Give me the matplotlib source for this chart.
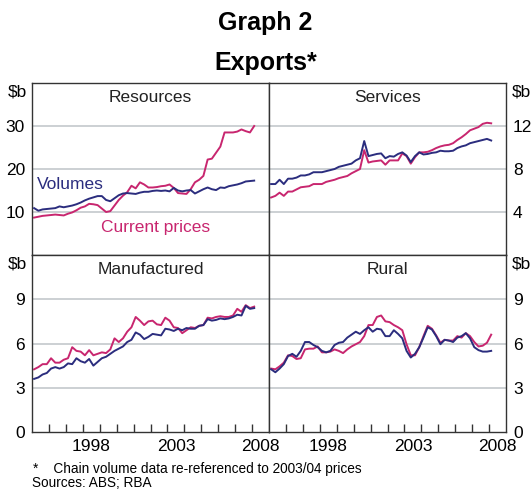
import matplotlib
matplotlib.use("Agg")
import matplotlib.pyplot as plt
import numpy as np

plt.rcParams['font.family'] = ['Liberation Sans', 'DejaVu Sans']

# quarterly observations, mid-quarter dates
n_q = 53
dates = 1995.125 + 0.25 * np.arange(n_q)

resources_vol = [10.9, 10.3, 10.6, 10.7, 10.8, 10.9, 11.3, 11.1, 11.3, 11.5, 11.8, 12.2, 12.7, 13.1,
                 13.4, 13.7, 13.7, 12.8, 12.5, 13.2, 13.9, 14.3, 14.4, 14.3, 14.2, 14.5, 14.7, 14.7,
                 14.9, 15.0, 14.9, 15.0, 14.8, 15.6, 15.0, 14.8, 15.0, 15.1, 14.3, 14.8, 15.3, 15.7,
                 15.3, 15.1, 15.7, 15.6, 16.0, 16.2, 16.4, 16.7, 17.1, 17.2, 17.3]
resources_cur = [8.7, 8.9, 9.1, 9.2, 9.3, 9.4, 9.3, 9.2, 9.6, 9.9, 10.4, 11.0, 11.3, 11.9,
                 11.8, 11.6, 10.8, 10.0, 10.2, 11.5, 12.8, 13.8, 14.6, 16.1, 15.5, 16.9, 16.4, 15.7,
                 15.7, 15.8, 16.0, 16.1, 16.4, 15.6, 14.4, 14.3, 14.2, 15.3, 16.9, 17.5, 18.4, 22.2,
                 22.4, 23.8, 25.2, 28.5, 28.5, 28.5, 28.7, 29.2, 28.8, 28.5, 30.0]

services_vol = [6.6, 6.6, 7.0, 6.6, 7.1, 7.1, 7.2, 7.4, 7.4, 7.5, 7.7, 7.7, 7.7, 7.8,
                7.9, 8.0, 8.2, 8.3, 8.4, 8.5, 8.8, 9.0, 10.6, 9.2, 9.3, 9.4, 9.45, 9.0,
                9.2, 9.15, 9.4, 9.55, 9.25, 8.65, 9.2, 9.55, 9.35, 9.4, 9.5, 9.55, 9.7, 9.65,
                9.65, 9.7, 9.95, 10.1, 10.2, 10.4, 10.5, 10.6, 10.7, 10.8, 10.65]
services_cur = [5.35, 5.5, 5.8, 5.5, 5.9, 5.9, 6.1, 6.3, 6.35, 6.4, 6.6, 6.6, 6.6, 6.8,
                6.9, 7.0, 7.15, 7.25, 7.35, 7.6, 7.8, 8.0, 9.75, 8.6, 8.7, 8.75, 8.8, 8.4,
                8.8, 8.8, 8.8, 9.45, 9.2, 8.5, 9.1, 9.55, 9.55, 9.6, 9.75, 9.95, 10.1, 10.2,
                10.25, 10.4, 10.7, 10.95, 11.25, 11.6, 11.75, 11.9, 12.2, 12.3, 12.25]

manuf_vol = [3.6, 3.7, 3.9, 4.0, 4.3, 4.4, 4.3, 4.4, 4.65, 4.6, 5.0, 4.8, 4.7, 4.95,
             4.5, 4.75, 5.0, 5.1, 5.3, 5.5, 5.65, 5.8, 6.1, 6.25, 6.75, 6.6, 6.3, 6.45,
             6.65, 6.6, 6.55, 7.0, 6.95, 6.85, 7.0, 6.9, 7.05, 7.0, 7.0, 7.2, 7.25, 7.65,
             7.55, 7.6, 7.7, 7.65, 7.7, 7.8, 7.95, 7.9, 8.55, 8.35, 8.4]
manuf_cur = [4.25, 4.4, 4.6, 4.6, 5.0, 4.7, 4.7, 4.9, 5.0, 5.75, 5.5, 5.45, 5.2, 5.55,
             5.2, 5.3, 5.4, 5.35, 5.6, 6.35, 6.1, 6.35, 6.8, 7.1, 7.8, 7.55, 7.25, 7.5,
             7.55, 7.3, 7.25, 7.75, 7.55, 7.1, 7.05, 6.7, 6.9, 7.1, 7.05, 7.2, 7.25, 7.75,
             7.7, 7.8, 7.85, 7.8, 7.8, 7.9, 8.35, 8.15, 8.6, 8.4, 8.5]

rural_vol = [4.25, 4.05, 4.3, 4.6, 5.15, 5.3, 5.1, 5.5, 6.1, 6.1, 5.9, 5.75, 5.5, 5.4,
             5.5, 5.9, 6.05, 6.1, 6.4, 6.6, 6.8, 6.65, 6.9, 7.1, 6.8, 7.0, 6.95, 6.5,
             6.5, 6.9, 6.65, 6.35, 5.5, 5.05, 5.3, 5.75, 6.4, 7.1, 6.95, 6.5, 5.95, 6.25,
             6.2, 6.1, 6.4, 6.5, 6.7, 6.35, 5.75, 5.55, 5.45, 5.45, 5.5]
rural_cur = [4.3, 4.25, 4.45, 4.7, 5.2, 5.15, 4.95, 5.0, 5.6, 5.65, 5.65, 5.8, 5.4, 5.4,
             5.45, 5.6, 5.5, 5.35, 5.6, 5.8, 5.95, 6.1, 6.5, 7.25, 7.25, 7.8, 7.9, 7.5,
             7.45, 7.25, 7.1, 6.9, 5.95, 5.2, 5.2, 5.75, 6.5, 7.2, 7.0, 6.55, 6.05, 6.25,
             6.2, 6.2, 6.5, 6.4, 6.7, 6.5, 6.1, 5.8, 5.85, 6.05, 6.6]

year_labels = ['1998', '2003', '2008']

VOL_COL = '#2b2d7e'
CUR_COL = '#c8266f'
GRID_COL = '#c4c8cc'
FRAME_COL = '#333333'
FS = 12.5

fig = plt.figure(figsize=(5.31, 4.93), dpi=100)

left, right = 32 / 531, 506 / 531
w = (right - left) / 2
top, mid, bot = 1 - 83 / 493, 1 - 255 / 493, 1 - 432 / 493
h_top, h_bot = top - mid, mid - bot

panels = [
    ('Resources', resources_vol, resources_cur, (left, mid, w, h_top), (0, 40), [10, 20, 30], 'left', False),
    ('Services', services_vol, services_cur, (left + w, mid, w, h_top), (0, 16), [4, 8, 12], 'right', False),
    ('Manufactured', manuf_vol, manuf_cur, (left, bot, w, h_bot), (0, 12), [0, 3, 6, 9], 'left', True),
    ('Rural', rural_vol, rural_cur, (left + w, bot, w, h_bot), (0, 12), [0, 3, 6, 9], 'right', True),
]

axes = []
for name, vol, cur, rect, ylim, yticks, side, bottom in panels:
    ax = fig.add_axes(rect)
    ax.set_xlim(1995, 2009)
    ax.set_ylim(*ylim)
    for t in yticks:
        if t > 0:
            ax.axhline(t, color=GRID_COL, lw=1.2, zorder=1)
    ax.plot(dates, vol, color=VOL_COL, lw=1.4, zorder=3)
    ax.plot(dates, cur, color=CUR_COL, lw=1.4, zorder=2)

    ax.set_yticks(yticks)
    ax.tick_params(axis='y', length=0, labelsize=FS, pad=5)
    if side == 'right':
        ax.yaxis.tick_right()
        ax.text(1.025, 0.95, '$b', transform=ax.transAxes, fontsize=FS, ha='left', va='center')
    else:
        ax.text(-0.02, 0.95, '$b', transform=ax.transAxes, fontsize=FS, ha='right', va='center')

    if bottom:
        ax.set_xticks(np.arange(1996, 2009))
        ax.set_xticklabels([])
        ax.tick_params(axis='x', which='major', direction='in', length=6, width=1, color=FRAME_COL)
        ax.set_xticks([1998.5, 2003.5, 2008.5], minor=True)
        ax.set_xticklabels(year_labels, minor=True)
        ax.tick_params(axis='x', which='minor', length=0, labelsize=FS, pad=5)
    else:
        ax.set_xticks([])

    for sp in ax.spines.values():
        sp.set_color(FRAME_COL)
        sp.set_linewidth(1.0)
    ax.text(0.5, 0.96, name, transform=ax.transAxes, fontsize=FS, ha='center', va='top', color='#222222')
    axes.append(ax)

axes[0].text(1995.3, 16.3, 'Volumes', color=VOL_COL, fontsize=FS, ha='left', va='center')
axes[0].text(1999.1, 6.3, 'Current prices', color=CUR_COL, fontsize=FS, ha='left', va='center')

fig.text(0.5, 1 - 23 / 493, 'Graph 2', fontsize=18, fontweight='bold', ha='center', va='center')
fig.text(0.5, 1 - 63 / 493, 'Exports*', fontsize=18, fontweight='bold', ha='center', va='center')

fig.text(33 / 531, 1 - 469 / 493, '*    Chain volume data re-referenced to 2003/04 prices', fontsize=9.8,
         ha='left', va='center')
fig.text(32 / 531, 1 - 483 / 493, 'Sources: ABS; RBA', fontsize=9.8, ha='left', va='center')

fig.savefig('out.png', dpi=100)
